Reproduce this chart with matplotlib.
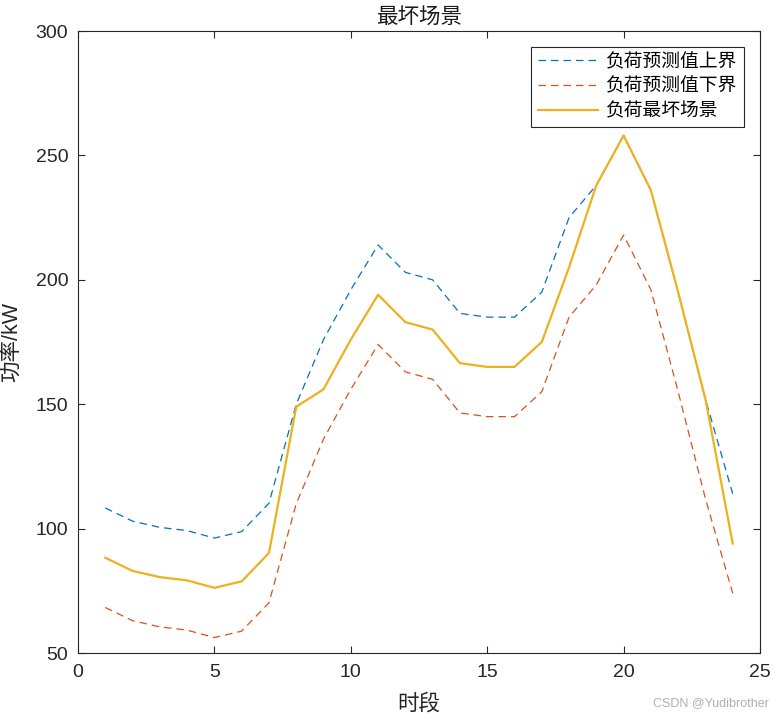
import matplotlib
matplotlib.use("Agg")
import matplotlib.pyplot as plt

plt.rcParams['font.family'] = ['Liberation Sans', 'Noto Sans CJK SC', 'DejaVu Sans']

hours = list(range(1, 25))
upper = [108.3, 103, 100.5, 99.2, 96.2, 98.8, 110.2, 150, 176, 196, 214, 203,
         200, 186.5, 185, 185, 195, 225, 238, 258, 236, 195, 152, 114]
lower = [68.3, 63, 60.5, 59.2, 56.2, 58.8, 70.2, 110, 136, 156, 174, 163,
         160, 146.5, 145, 145, 155, 185, 198, 218, 196, 155, 112, 74]
worst = [88.3, 83, 80.5, 79.2, 76.2, 78.8, 90.2, 149, 156, 176, 194, 183,
         180, 166.5, 165, 165, 175, 205, 238, 258, 236, 195, 152, 94]

xticks = [0, 5, 10, 15, 20, 25]
yticks = [50, 100, 150, 200, 250, 300]

fig = plt.figure(figsize=(7.73, 7.18), dpi=100)
ax = fig.add_axes([0.1009, 0.0905, 0.8823, 0.8663])

ax.plot(hours, upper, linestyle=(0, (6, 4)), color='#0072BD', linewidth=0.9, label='负荷预测值上界')
ax.plot(hours, lower, linestyle=(0, (6, 4)), color='#D95319', linewidth=0.9, label='负荷预测值下界')
ax.plot(hours, worst, linestyle='-', color='#EDB120', linewidth=1.6, label='负荷最坏场景')

ax.set_xlim(0, 25)
ax.set_ylim(50, 300)
ax.set_xticks(xticks)
ax.set_yticks(yticks)
ax.tick_params(direction='in', length=5, width=0.8, labelsize=14, top=True, right=True,
               labeltop=False, labelright=False, colors='#262626')
ax.tick_params(axis='y', pad=7)
ax.tick_params(axis='x', pad=8)
for s in ax.spines.values():
    s.set_linewidth(0.8)
    s.set_color('#262626')

ax.set_title('最坏场景', fontsize=15.5, color='#1a1a1a', pad=6)
ax.set_xlabel('时段', fontsize=15.5, color='#262626', labelpad=9)
ax.set_ylabel('功率/kW', fontsize=15.5, color='#262626', labelpad=10)

leg = ax.legend(loc='upper right', fontsize=13.5, frameon=True, fancybox=False,
                edgecolor='#262626', framealpha=1, borderpad=0.35, labelspacing=0.38,
                handlelength=3.2, handletextpad=0.45, borderaxespad=0.85)
leg.get_frame().set_linewidth(0.8)

fig.text(0.995, 0.012, 'CSDN @Yudibrother', ha='right', va='bottom', fontsize=9, color='#b0b0b0')

fig.savefig('out.png', dpi=100)
